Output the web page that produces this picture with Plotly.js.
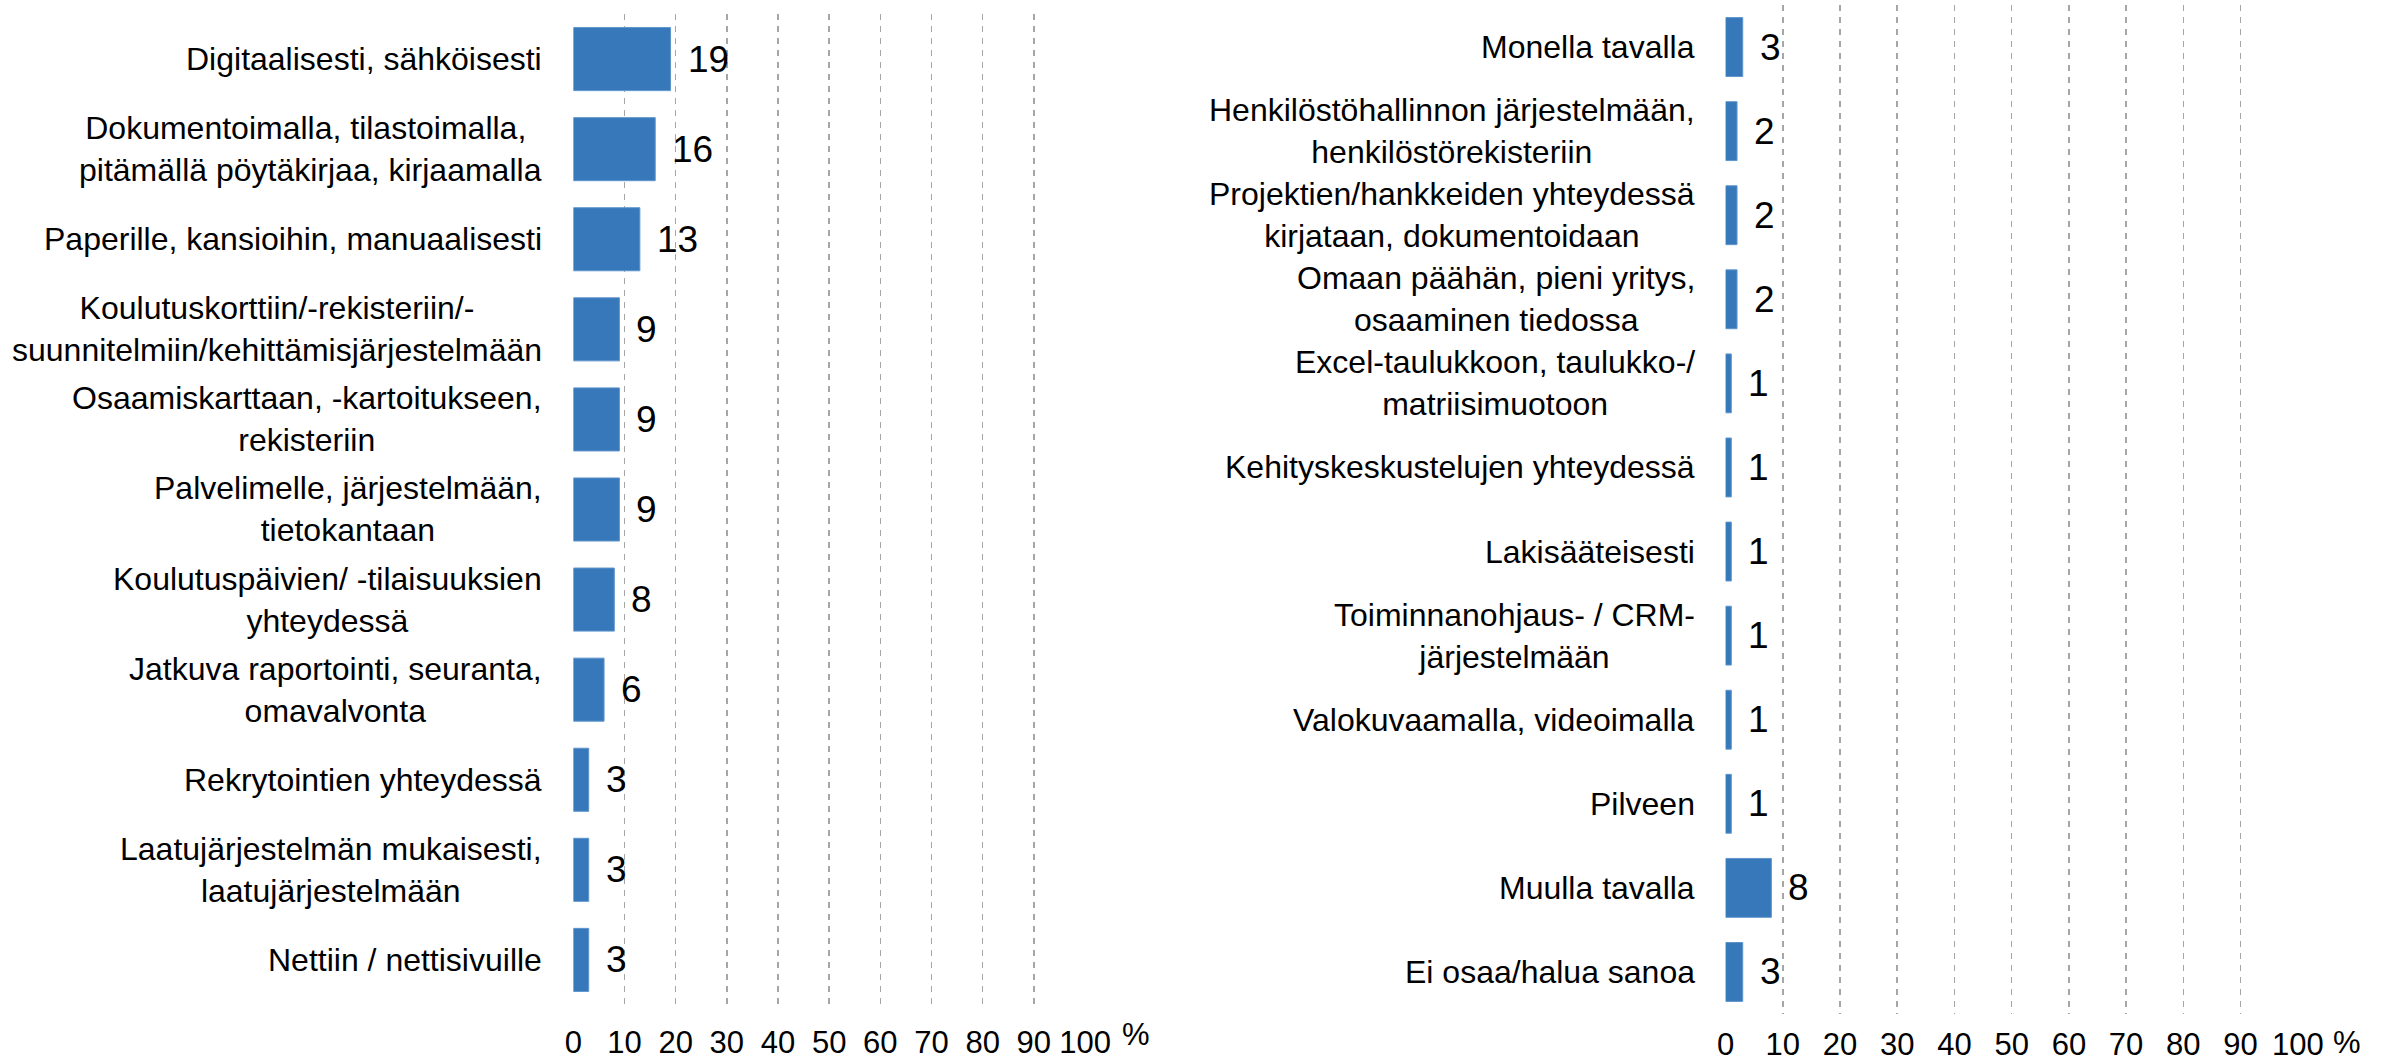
<!DOCTYPE html>
<html>
<head>
<meta charset="utf-8">
<script src="https://cdn.plot.ly/plotly-3.0.1.min.js"></script>
<style>
  html, body { margin: 0; padding: 0; background: #ffffff; }
  #chart { width: 2392px; height: 1064px; }
</style>
</head>
<body>
<div id="chart"></div>
<script>
// Left panel categories and values (%)
const leftLabels = [
  "Digitaalisesti, sähköisesti",
  "Dokumentoimalla, tilastoimalla, <br>pitämällä pöytäkirjaa, kirjaamalla",
  "Paperille, kansioihin, manuaalisesti",
  "Koulutuskorttiin/-rekisteriin/-<br>suunnitelmiin/kehittämisjärjestelmään",
  "Osaamiskarttaan, -kartoitukseen,<br>rekisteriin",
  "Palvelimelle, järjestelmään,<br>tietokantaan",
  "Koulutuspäivien/ -tilaisuuksien<br>yhteydessä",
  "Jatkuva raportointi, seuranta,<br>omavalvonta",
  "Rekrytointien yhteydessä",
  "Laatujärjestelmän mukaisesti,<br>laatujärjestelmään",
  "Nettiin / nettisivuille",
];
const leftValues = [19, 16, 13, 9, 9, 9, 8, 6, 3, 3, 3];

// Right panel categories and values (%)
const rightLabels = [
  "Monella tavalla",
  "Henkilöstöhallinnon järjestelmään,<br>henkilöstörekisteriin",
  "Projektien/hankkeiden yhteydessä<br>kirjataan, dokumentoidaan",
  "Omaan päähän, pieni yritys,<br>osaaminen tiedossa",
  "Excel-taulukkoon, taulukko-/<br>matriisimuotoon",
  "Kehityskeskustelujen yhteydessä",
  "Lakisääteisesti",
  "Toiminnanohjaus- / CRM-<br>järjestelmään",
  "Valokuvaamalla, videoimalla",
  "Pilveen",
  "Muulla tavalla",
  "Ei osaa/halua sanoa",
];
const rightValues = [3, 2, 2, 2, 1, 1, 1, 1, 1, 1, 8, 3];

const xTicks = [0, 10, 20, 30, 40, 50, 60, 70, 80, 90, 100];
const unitLabel = "%";

const FONT = "Liberation Sans, Arial, sans-serif";
const BAR_COLOR = "#3778ba";

function barTrace(labels, values, xa, ya) {
  return {
    type: "bar",
    orientation: "h",
    x: values,
    y: labels,
    xaxis: xa,
    yaxis: ya,
    marker: { color: BAR_COLOR, line: { color: "#5e95cc", width: 1 } },
    hoverinfo: "skip",
    showlegend: false,
  };
}

// category names sit left of the axis, lines centred on each other
function categoryNotes(labels, xref, yref) {
  return labels.map((lab) => ({
    x: 0,
    y: lab,
    xref: xref,
    yref: yref,
    text: lab,
    showarrow: false,
    xanchor: "right",
    yanchor: "middle",
    align: "center",
    xshift: -29,
    font: { family: FONT, size: 32, color: "#000000" },
  }));
}

function valueNotes(labels, values, xref, yref) {
  return labels.map((lab, i) => ({
    x: values[i],
    y: lab,
    xref: xref,
    yref: yref,
    text: String(values[i]),
    showarrow: false,
    xanchor: "left",
    yanchor: "middle",
    xshift: 15,
    font: { family: FONT, size: 37, color: "#000000" },
  }));
}

function xAxis(domain, anchor, standoff) {
  return {
    domain: domain,
    anchor: anchor,
    range: [0, 100],
    tickvals: xTicks,
    ticktext: xTicks.map(String),
    showgrid: true,
    gridcolor: "#a6a6a6",
    gridwidth: 1.5,
    griddash: "6px,6px",
    zeroline: false,
    showline: false,
    ticks: "",
    tickfont: { family: FONT, size: 31, color: "#000000" },
    ticklabelstandoff: standoff,
    fixedrange: true,
  };
}

function yAxis(domain, anchor) {
  return {
    domain: domain,
    anchor: anchor,
    type: "category",
    autorange: "reversed",
    showticklabels: false,
    showgrid: false,
    zeroline: false,
    showline: false,
    ticks: "",
    fixedrange: true,
  };
}

const layout = {
  width: 2392,
  height: 1064,
  margin: { l: 0, r: 0, t: 0, b: 0 },
  paper_bgcolor: "#ffffff",
  plot_bgcolor: "#ffffff",
  bargap: 0.3,
  font: { family: FONT, color: "#000000" },
  xaxis: xAxis([0.2397, 0.4536], "y", 16),
  yaxis: yAxis([0.0555, 0.9868], "x"),
  xaxis2: xAxis([0.7214, 0.9606], "y2", 9),
  yaxis2: yAxis([0.047, 0.9953], "x2"),
  annotations: [
    ...categoryNotes(leftLabels, "x", "y"),
    ...valueNotes(leftLabels, leftValues, "x", "y"),
    ...categoryNotes(rightLabels, "x2", "y2"),
    ...valueNotes(rightLabels, rightValues, "x2", "y2"),
    {
      x: 0.475, y: 0.028, xref: "paper", yref: "paper",
      text: unitLabel, showarrow: false, xanchor: "center", yanchor: "middle",
      font: { family: FONT, size: 31, color: "#000000" },
    },
    {
      x: 0.981, y: 0.02, xref: "paper", yref: "paper",
      text: unitLabel, showarrow: false, xanchor: "center", yanchor: "middle",
      font: { family: FONT, size: 31, color: "#000000" },
    },
  ],
};

Plotly.newPlot(
  "chart",
  [
    barTrace(leftLabels, leftValues, "x", "y"),
    barTrace(rightLabels, rightValues, "x2", "y2"),
  ],
  layout,
  { staticPlot: true, displayModeBar: false }
);
</script>
</body>
</html>
